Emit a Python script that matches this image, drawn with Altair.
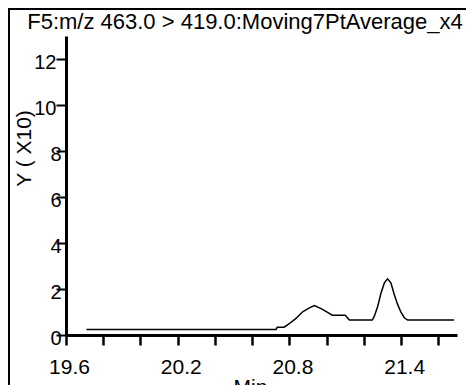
import altair as alt
import pandas as pd

times = [19.710, 20.728, 20.735, 20.772, 20.799, 20.835, 20.871, 20.907, 20.934,
         20.970, 21.005, 21.030, 21.100, 21.122, 21.245, 21.256, 21.274, 21.292,
         21.310, 21.327, 21.345, 21.363, 21.381, 21.399, 21.417, 21.435, 21.685]
values = [0.24, 0.24, 0.34, 0.34, 0.49, 0.72, 1.01, 1.18, 1.28,
          1.15, 0.98, 0.86, 0.86, 0.65, 0.65, 0.82, 1.24, 1.83,
          2.27, 2.44, 2.27, 1.76, 1.33, 0.99, 0.75, 0.65, 0.65]

x_ticks = [19.6, 19.8, 20.0, 20.2, 20.4, 20.6, 20.8, 21.0, 21.2, 21.4, 21.6]
x_labels = ["19.6", "20.2", "20.8", "21.4"]
y_ticks = [0, 2, 4, 6, 8, 10, 12]

title_text = "F5:m/z 463.0 > 419.0:Moving7PtAverage_x4"
x_title = "Min"
y_title = "Y ( X10)"

FONT = "Liberation Sans"
W, H = 391, 299

df = pd.DataFrame({"t": times, "v": values})
label_list = "[" + ",".join("'" + s + "'" for s in x_labels) + "]"

line = alt.Chart(df).mark_line(color="black", strokeWidth=1.5).encode(
    x=alt.X("t:Q",
            scale=alt.Scale(domain=[19.6, 21.7], nice=False, zero=False),
            axis=alt.Axis(values=x_ticks, title=x_title, grid=False,
                          domainColor="black", domainWidth=3,
                          tickColor="black", tickWidth=2.5, tickSize=10,
                          labelFont=FONT, labelFontSize=21, labelColor="black",
                          labelPadding=11, labelOffset=3, labelFlush=False,
                          labelOverlap=False,
                          labelExpr="indexof(" + label_list + ", format(datum.value, '.1f')) >= 0 ? format(datum.value, '.1f') : ''",
                          titleFont=FONT, titleFontSize=21, titleFontWeight="normal",
                          titleColor="black", titleAlign="center", titleBaseline="top",
                          titleX=184, titleY=41)),
    y=alt.Y("v:Q",
            scale=alt.Scale(domain=[0, 13], nice=False),
            axis=alt.Axis(values=y_ticks, title=y_title, grid=False,
                          domainColor="black", domainWidth=3,
                          tickColor="black", tickWidth=2, tickSize=10,
                          labelFont=FONT, labelFontSize=20, labelColor="black",
                          labelAlign="right", labelBaseline="middle",
                          labelPadding={"condition": {"test": "datum.value >= 10", "value": 0}, "value": -5},
                          labelOffset=3, labelFlush=False, labelOverlap=False,
                          titleFont=FONT, titleFontSize=21, titleFontWeight="normal",
                          titleColor="black", titleAngle=270, titleAlign="center",
                          titleBaseline="middle", titleX=-42, titleY=112)),
)

one = pd.DataFrame({"label": [title_text]})
frame_left = alt.Chart(one).mark_rule(color="black", strokeWidth=2).encode(
    x=alt.value(-57), y=alt.value(-28), y2=alt.value(H + 70))
frame_top = alt.Chart(one).mark_rule(color="black", strokeWidth=2).encode(
    y=alt.value(-27), x=alt.value(-58), x2=alt.value(W + 10))
title_mark = alt.Chart(one).mark_text(font=FONT, fontSize=22, color="black",
                                      align="center", baseline="alphabetic").encode(
    text="label:N", x=alt.value(179), y=alt.value(-7))

chart = alt.layer(frame_left, frame_top, title_mark, line).properties(
    width=W, height=H,
    autosize=alt.AutoSizeParams(type="none"),
    padding={"left": 58, "top": 28, "right": 9, "bottom": 70},
).configure_view(stroke=None)

chart.save("out.html", embed_options={"renderer": "svg", "actions": False})
